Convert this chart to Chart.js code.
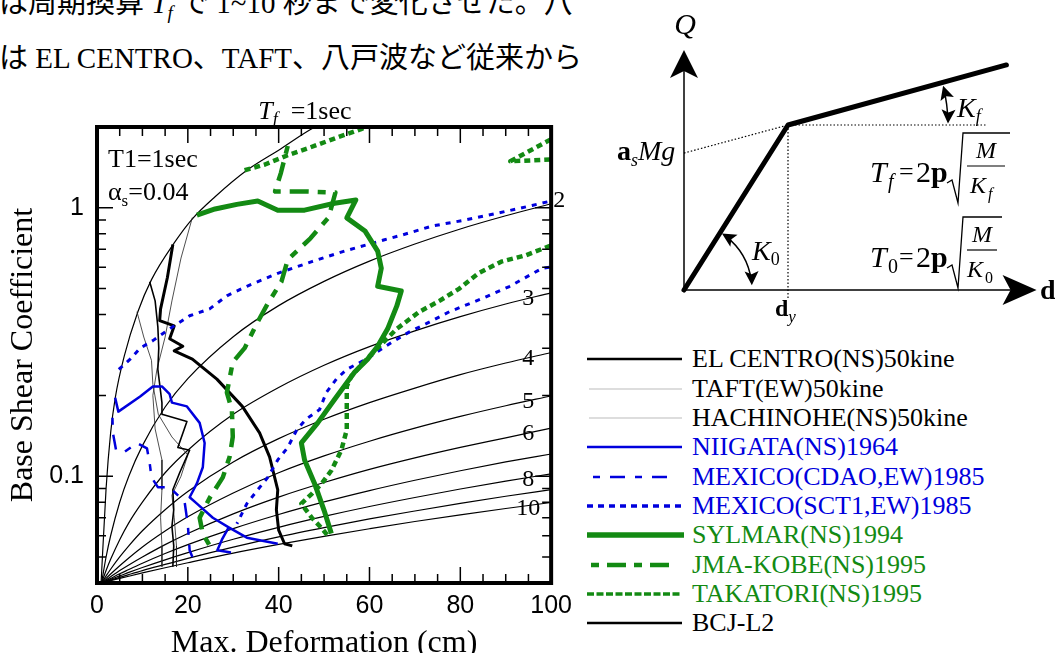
<!DOCTYPE html>
<html>
<head>
<meta charset="utf-8">
<script src="https://cdn.jsdelivr.net/npm/chart.js@4.4.1/dist/chart.umd.min.js"></script>
<style>
  html, body { margin: 0; padding: 0; width: 1055px; height: 653px; overflow: hidden; background: #fff; }
  #page { position: relative; width: 1055px; height: 653px; overflow: hidden; }
  .jp { position: absolute; left: -1px; font-family: "Liberation Serif", "Noto Sans CJK JP", serif; font-size: 29px; line-height: 29px; white-space: nowrap; color: #000; }
  .jp .sub { font-size: 19px; position: relative; top: 6px; font-style: italic; }
  #line1 { top: -11px; }
  #line2 { top: 44px; }
  #main { position: absolute; left: 0; top: 90px; }
  #skel { position: absolute; left: 600px; top: 0; }
  #legend { position: absolute; left: 587px; top: 0; }
  .lg-row { position: absolute; left: 0; height: 30px; width: 460px; }
  .lg-row svg { position: absolute; left: 0; top: 0; }
  .lg-row span { position: absolute; left: 105px; top: 0; line-height: 30px; font-family: "Liberation Serif", serif; font-size: 26px; white-space: nowrap; }
</style>
</head>
<body>
<div id="page">
  <div class="jp" id="line1">は周期換算 <i>T</i><span class="sub">f</span> で 1~10 秒まで変化させた。八</div>
  <div class="jp" id="line2">は EL CENTRO、TAFT、八戸波など従来から</div>
  <canvas id="main" width="580" height="575" style="width:580px;height:575px"></canvas>
  <canvas id="skel" width="455" height="330" style="width:455px;height:330px"></canvas>
  <div id="legend"></div>
</div>
<script>
// ---------- data ----------
// constant equivalent-period (Tf) curves, d in cm, C = base shear coefficient
const tfGridD = [1, 2, 3, 5, 7, 10, 15, 20, 30, 40, 50, 60, 70, 80, 90, 100];
const tf2C  = [0.040, 0.050, 0.060, 0.080, 0.100, 0.130, 0.181, 0.231, 0.331, 0.432, 0.532, 0.633, 0.733, 0.834, 0.934, 1.035];
const tf3C  = [0.040, 0.0445, 0.049, 0.058, 0.067, 0.080, 0.103, 0.125, 0.170, 0.214, 0.259, 0.304, 0.348, 0.393, 0.438, 0.482];
const tf4C  = [0.040, 0.0425, 0.045, 0.050, 0.055, 0.0626, 0.075, 0.0877, 0.113, 0.138, 0.163, 0.188, 0.213, 0.239, 0.264, 0.289];
const tf5C  = [0.040, 0.0416, 0.0432, 0.0464, 0.0496, 0.0545, 0.0625, 0.0706, 0.0866, 0.103, 0.119, 0.135, 0.151, 0.167, 0.183, 0.199];
const tf6C  = [0.040, 0.0411, 0.0422, 0.0445, 0.0467, 0.050, 0.0556, 0.0612, 0.0724, 0.0836, 0.0947, 0.106, 0.117, 0.128, 0.139, 0.151];
const tf7C  = [0.040, 0.0408, 0.0416, 0.0433, 0.0449, 0.0474, 0.0515, 0.0556, 0.0638, 0.072, 0.0802, 0.0884, 0.0966, 0.1048, 0.113, 0.121];
const tf8C  = [0.040, 0.0406, 0.0413, 0.0425, 0.0438, 0.0457, 0.0488, 0.0519, 0.0582, 0.0645, 0.0708, 0.0771, 0.0833, 0.0896, 0.0959, 0.102];
const tf9C  = [0.040, 0.0405, 0.041, 0.042, 0.043, 0.0445, 0.0469, 0.0494, 0.0544, 0.0594, 0.0643, 0.0693, 0.0742, 0.0792, 0.0842, 0.0891];
const tf10C = [0.040, 0.0404, 0.0408, 0.0416, 0.0424, 0.0436, 0.0456, 0.0476, 0.0517, 0.0557, 0.0597, 0.0637, 0.0678, 0.0718, 0.0758, 0.0798];
const tf1D = [0.9, 2, 3, 4, 6, 9, 12, 17, 21, 26, 33, 40, 48, 51];
const tf1C = [0.04, 0.09, 0.145, 0.195, 0.28, 0.41, 0.54, 0.74, 0.91, 1.1, 1.38, 1.64, 2.0, 2.1];
const tfCurveLabels = ['2', '3', '4', '5', '6', '8', '10'];

// response traces (Tf = 1 ... 10), null = trace leaves the plot
const elcD = [11.6, 12.8, 13.4, 13.6, 13.4, 14.3, 14.3, 19.8, 17.8, 20.4, 18.2, 16.7, 16.9, 16.5, 16.9, 16.7];
const elcC = [0.53, 0.45, 0.36, 0.30, 0.25, 0.188, 0.17, 0.16, 0.128, 0.125, 0.103, 0.089, 0.075, 0.065, 0.055, 0.046];
const taftD = [21, 18.5, 16.5, 15, 13.2, 12.3, 12.8, 14.3, 14.3, 14, 14.3, 14.3];
const taftC = [0.92, 0.65, 0.45, 0.33, 0.25, 0.2, 0.15, 0.115, 0.089, 0.07, 0.055, 0.046];
const hachD = [8.8, 10.3, 12, 12.3, 13.5, 16.5, 20, 18.5, 16.5, 17, 17.5, 17.5];
const hachC = [0.41, 0.33, 0.27, 0.22, 0.17, 0.14, 0.12, 0.1, 0.085, 0.07, 0.055, 0.046];
const niiD = [4, 4.7, 9.5, 12.3, 14.3, 16, 16.5, 19.8, 22.6, 23.7, 23.3, 22, 20.4, 22, 25.5, 29, 33, 39.8, null, 29, 27.5, 26.5, 29.5];
const niiC = [0.196, 0.174, 0.198, 0.216, 0.216, 0.202, 0.188, 0.182, 0.158, 0.133, 0.108, 0.094, 0.0835, 0.079, 0.07, 0.0645, 0.059, 0.056, null, 0.0645, 0.058, 0.053, 0.052];
const cdaoD = [3.4, 3.5, 4.2, 6, 8.8, 11, 11.6, 12, 13.4, 16, 19.3, 20, 20.4, 21];
const cdaoC = [0.165, 0.145, 0.125, 0.123, 0.133, 0.127, 0.112, 0.099, 0.091, 0.091, 0.08, 0.066, 0.053, 0.05];
const sctD = [4.8, 7.3, 9.5, 12.3, 16, 20.4, 24.8, 28.6, 33, 39.8, 47.3, 54.5, 63.3, 67, 73.8, 81, 88.6, 95.8, 100, 102, null,
              102, 98, 90.8, 84.8, 77.6, 72.5, 68.8, 65, 59.3, 55, 52.7, 50.5, 49, 46, 44, 42, 39.8, 37.6, 35.4, 33, 30.8];
const sctC = [0.25, 0.273, 0.30, 0.32, 0.354, 0.396, 0.42, 0.47, 0.51, 0.57, 0.63, 0.69, 0.76, 0.79, 0.855, 0.90, 0.958, 1.02, 1.06, 1.08, null,
              0.61, 0.595, 0.509, 0.459, 0.41, 0.37, 0.345, 0.316, 0.273, 0.25, 0.23, 0.205, 0.177, 0.163, 0.149, 0.128, 0.115, 0.099, 0.089, 0.079, 0.0665];
const sylD = [22, 26, 30.8, 35.4, 39.8, 45.7, 52.3, 57, 55, 59, 61.8, 62.6, 61.8, 67, 66, 64, 61.8, 59.6, 56.7, 52.3, 48.6, 45, 45.7, 47.9, 50, 51.6];
const sylC = [0.94, 0.99, 1.03, 1.06, 0.98, 0.98, 1.04, 1.07, 0.917, 0.82, 0.69, 0.595, 0.51, 0.49, 0.43, 0.354, 0.305, 0.273, 0.244, 0.193, 0.158, 0.133, 0.115, 0.094, 0.0746, 0.0612];
const kobeD = [42, 40.5, 39.2, 46, 52.5, 51, 47, 42, 40.6, 37.6, 35.4, 32.5, 29.9, 28.6, 29.7, 29.9, 29.2, 27.7, 24.8, 22.6, 23.3, 25.5];
const kobeC = [1.7, 1.35, 1.15, 1.15, 1.14, 0.92, 0.77, 0.64, 0.53, 0.44, 0.376, 0.30, 0.266, 0.205, 0.177, 0.14, 0.118, 0.099, 0.083, 0.07, 0.061, 0.0527];
const takD = [32.5, 37, 42, 47, 53, 58, 62, null, 102, 91, 100, 102, null,
              102, 99.6, 94.5, 89, 84, 79.8, 75.4, 71, 66, 60, 56, 55, 55, 55, 53.8, 51.6, 49.5, 47.3, 45, 47.3, 49.5, 50.8];
const takC = [1.38, 1.45, 1.57, 1.68, 1.83, 1.96, 2.1, null, 1.52, 1.49, 1.8, 1.86, null,
              0.74, 0.72, 0.666, 0.63, 0.57, 0.50, 0.45, 0.41, 0.354, 0.28, 0.236, 0.216, 0.177, 0.149, 0.125, 0.105, 0.094, 0.086, 0.079, 0.07, 0.064, 0.060];
const bcjD = [16.7, 15.5, 14, 13.8, 17, 16, 18.9, 17, 21, 26.4, 32, 35.8, 38, 39.8, 39.5, 40, 41.3, 43];
const bcjC = [0.73, 0.55, 0.42, 0.38, 0.363, 0.325, 0.305, 0.293, 0.273, 0.23, 0.182, 0.145, 0.118, 0.089, 0.075, 0.063, 0.056, 0.055];

const seriesNames = ['EL CENTRO(NS)50kine', 'TAFT(EW)50kine', 'HACHINOHE(NS)50kine', 'NIIGATA(NS)1964',
  'MEXICO(CDAO,EW)1985', 'MEXICO(SCT1,EW)1985', 'SYLMAR(NS)1994', 'JMA-KOBE(NS)1995', 'TAKATORI(NS)1995', 'BCJ-L2'];

// axis ticks
const yTickValues = [0.04, 0.05, 0.06, 0.07, 0.08, 0.09, 0.1, 0.2, 0.3, 0.4, 0.5, 0.6, 0.7, 0.8, 0.9, 1, 2];
const yLabelValues = [0.1, 1];
const xMinorTicks = [0, 5, 10, 15, 20, 25, 30, 35, 40, 45, 50, 55, 60, 65, 70, 75, 80, 85, 90, 95, 100];
const xMajorTicks = [0, 20, 40, 60, 80, 100];

// bilinear skeleton of the schematic (d / dy, Q / Qy)
const skelD = [0, 1, 3.1];
const skelQ = [0, 1, 1.364];
const alphaQ = 0.83;
const qAxisTop = 1.455;
const dAxisEnd = 3.39;
const dottedEndD = 2.9;

// ---------- styles ----------
const BLUE = '#0000dd';
const GREEN = '#138a13';
const pts = (d, c) => d.map((v, i) => ({ x: c[i] === null ? null : v, y: c[i] }));

const series = [
  { d: elcD,  c: elcC,  color: '#000', width: 1.6, dash: [], lg: { color: '#000', width: 2.7, dash: [], x1: 0, x2: 95 }, text: '#000', z: 7 },
  { d: taftD, c: taftC, color: '#222', width: 0.8, dash: [], lg: { color: '#bbb', width: 1, dash: [], x1: 2, x2: 95 }, text: '#000', z: 8 },
  { d: hachD, c: hachC, color: '#222', width: 0.8, dash: [], lg: { color: '#bbb', width: 1, dash: [], x1: 2, x2: 95 }, text: '#000', z: 9 },
  { d: niiD,  c: niiC,  color: BLUE, width: 2.5, dash: [], lg: { color: BLUE, width: 2.7, dash: [], x1: 0, x2: 95 }, text: BLUE, z: 3 },
  { d: cdaoD, c: cdaoC, color: BLUE, width: 2.5, dash: [7, 10, 15, 10], lg: { color: BLUE, width: 2.7, dash: [7, 10, 15, 10], x1: 6, x2: 82 }, text: BLUE, z: 4 },
  { d: sctD,  c: sctC,  color: BLUE, width: 3, dash: [5, 6], lg: { color: BLUE, width: 3.3, dash: [6, 5], x1: 0, x2: 94 }, text: BLUE, z: 5 },
  { d: sylD,  c: sylC,  color: GREEN, width: 5, dash: [], lg: { color: GREEN, width: 5.3, dash: [], x1: 0, x2: 97 }, text: GREEN, z: 0 },
  { d: kobeD, c: kobeC, color: GREEN, width: 4.5, dash: [8, 9, 19, 9], lg: { color: GREEN, width: 4.5, dash: [8, 8, 19, 8], x1: 4, x2: 84 }, text: GREEN, z: 1 },
  { d: takD,  c: takC,  color: GREEN, width: 4.5, dash: [6, 4], lg: { color: GREEN, width: 3.7, dash: [7, 2.5], x1: 0, x2: 94 }, text: GREEN, z: 2 },
  { d: bcjD,  c: bcjC,  color: '#000', width: 3, dash: [], lg: { color: '#000', width: 2.7, dash: [], x1: 0, x2: 95 }, text: '#000', z: 6 }
];

Chart.defaults.font.family = '"Liberation Serif", "Times New Roman", serif';
Chart.defaults.color = '#000';

const datasets = [];
series.forEach((s, i) => {
  datasets.push({
    label: seriesNames[i], data: pts(s.d, s.c), order: s.z,
    borderColor: s.color, borderWidth: s.width, borderDash: s.dash,
    showLine: true, pointRadius: 0, tension: 0, spanGaps: false, borderJoinStyle: 'round'
  });
});
const tfCurves = [[tf1D, tf1C], [tfGridD, tf2C], [tfGridD, tf3C], [tfGridD, tf4C], [tfGridD, tf5C],
                  [tfGridD, tf6C], [tfGridD, tf7C], [tfGridD, tf8C], [tfGridD, tf9C], [tfGridD, tf10C]];
tfCurves.forEach(([d, c], i) => {
  datasets.push({
    label: 'Tf=' + (i + 1), data: pts(d, c), order: 20 + i,
    borderColor: '#000', borderWidth: 1.2, showLine: true, pointRadius: 0,
    cubicInterpolationMode: 'monotone'
  });
});

// labels drawn on the ends of the Tf curves
const tfLabelCurves = { '2': tf2C, '3': tf3C, '4': tf4C, '5': tf5C, '6': tf6C, '8': tf8C, '10': tf10C };

function subText(ctx, parts, x, y) {
  // parts: [text, font, dy]
  parts.forEach(([t, f, dy]) => {
    ctx.font = f;
    ctx.fillText(t, x, y + (dy || 0));
    x += ctx.measureText(t).width;
  });
}

const framePlugin = {
  id: 'frame',
  afterDatasetsDraw(chart) {
    const { ctx, chartArea: a, scales: { x, y } } = chart;
    ctx.save();
    ctx.strokeStyle = '#000';
    ctx.fillStyle = '#000';
    ctx.lineWidth = 1.5;
    ctx.beginPath();
    xMinorTicks.forEach(v => {
      const px = x.getPixelForValue(v);
      const len = xMajorTicks.includes(v) ? 16 : 9;
      ctx.moveTo(px, a.bottom); ctx.lineTo(px, a.bottom - len);
      ctx.moveTo(px, a.top); ctx.lineTo(px, a.top + len);
    });
    yTickValues.forEach(v => {
      const py = y.getPixelForValue(v);
      const len = yLabelValues.includes(v) ? 16 : 9;
      ctx.moveTo(a.left, py); ctx.lineTo(a.left + len, py);
      ctx.moveTo(a.right, py); ctx.lineTo(a.right - len, py);
    });
    ctx.stroke();
    ctx.lineWidth = 4;
    ctx.strokeRect(a.left, a.top, a.right - a.left, a.bottom - a.top);

    // texts
    ctx.textBaseline = 'alphabetic';
    ctx.textAlign = 'left';
    const serif = '"Liberation Serif", serif';
    subText(ctx, [['T', 'italic 26px ' + serif], ['f', 'italic 18px ' + serif, 6], ['  =1sec', '26px ' + serif]],
      x.getPixelForValue(35.5), a.top - 8);
    subText(ctx, [['T1=1sec', '26px ' + serif]], a.left + 11, a.top + 40);
    subText(ctx, [['α', '26px ' + serif], ['s', '17px ' + serif, 6], ['=0.04', '26px ' + serif]], a.left + 11, a.top + 73);

    ctx.font = '24px ' + serif;
    ctx.textBaseline = 'middle';
    tfCurveLabels.forEach(t => {
      const c = tfLabelCurves[t];
      const py = y.getPixelForValue(c[c.length - 1]);
      if (t === '2') {
        ctx.textAlign = 'left';
        ctx.fillText(t, a.right + 2, py - 3);
      } else {
        ctx.textAlign = 'center';
        ctx.fillText(t, a.right - 23, py + 6);
      }
    });
    ctx.restore();
  }
};

new Chart(document.getElementById('main'), {
  type: 'scatter',
  data: { datasets },
  options: {
    responsive: false,
    animation: false,
    events: [],
    layout: { padding: { left: 0, right: 28, top: 37, bottom: 0 } },
    plugins: { legend: { display: false }, tooltip: { enabled: false } },
    scales: {
      x: {
        type: 'linear', min: 0, max: 100,
        afterFit: s => { s.height = 82; },
        grid: { display: false, drawTicks: false },
        border: { display: false },
        ticks: { stepSize: 20, padding: 8, font: { family: '"Liberation Sans", Arial, sans-serif', size: 25 }, color: '#000', maxRotation: 0 },
        title: { display: true, text: 'Max. Deformation (cm)', font: { size: 32 }, color: '#000', padding: { top: 0, bottom: 2 } }
      },
      y: {
        type: 'logarithmic', min: 0.04, max: 2,
        afterFit: s => { s.width = 97; },
        afterBuildTicks: s => { s.ticks = yTickValues.map(v => ({ value: v })); },
        grid: { display: false, drawTicks: false },
        border: { display: false },
        ticks: {
          autoSkip: false, padding: 13, color: '#000',
          font: { family: '"Liberation Sans", Arial, sans-serif', size: 25 },
          callback: v => yLabelValues.includes(v) ? String(v) : ''
        },
        title: { display: true, text: 'Base Shear Coefficient', font: { size: 32 }, color: '#000' }
      }
    }
  },
  plugins: [framePlugin]
});

// ---------- schematic of the bilinear model ----------
function arrowHead(ctx, tx, ty, ang, len, half, notch) {
  const cx = Math.cos(ang), sy = Math.sin(ang);
  const bx = tx - cx * len, by = ty - sy * len;
  const nx = -sy, ny = cx;
  ctx.beginPath();
  ctx.moveTo(tx, ty);
  ctx.lineTo(bx + nx * half, by + ny * half);
  ctx.lineTo(tx - cx * (len - notch), ty - sy * (len - notch));
  ctx.lineTo(bx - nx * half, by - ny * half);
  ctx.closePath();
  ctx.fill();
}

function arcArrow(ctx, cx, cy, r, a1, a2) {
  ctx.beginPath();
  ctx.arc(cx, cy, r, a1 + 0.06, a2 - 0.06);
  ctx.stroke();
  arrowHead(ctx, cx + r * Math.cos(a1), cy + r * Math.sin(a1), a1 - Math.PI / 2 - 0.05, 14, 7, 3);
  arrowHead(ctx, cx + r * Math.cos(a2), cy + r * Math.sin(a2), a2 + Math.PI / 2 + 0.05, 14, 7, 3);
}

const skelPlugin = {
  id: 'skel',
  afterDatasetsDraw(chart) {
    const { ctx, scales: { x, y } } = chart;
    const o = { x: x.getPixelForValue(0), y: y.getPixelForValue(0) };
    const yp = { x: x.getPixelForValue(skelD[1]), y: y.getPixelForValue(skelQ[1]) };
    const ep = { x: x.getPixelForValue(skelD[2]), y: y.getPixelForValue(skelQ[2]) };
    ctx.save();
    ctx.fillStyle = '#000';
    ctx.strokeStyle = '#000';
    ctx.lineWidth = 1.5;
    arrowHead(ctx, o.x, y.getPixelForValue(qAxisTop), -Math.PI / 2, 28, 14, 7);
    arrowHead(ctx, x.getPixelForValue(dAxisEnd), o.y, 0, 34, 15, 8);

    const a0 = Math.atan2(yp.y - o.y, yp.x - o.x);
    arcArrow(ctx, o.x, o.y, 68, a0 + 0.03, -0.07);
    const af = Math.atan2(ep.y - yp.y, ep.x - yp.x);
    arcArrow(ctx, yp.x, yp.y, 160, af + 0.02, -0.01);

    const serif = '"Liberation Serif", serif';
    ctx.textBaseline = 'alphabetic';
    ctx.textAlign = 'center';
    ctx.font = 'italic 30px ' + serif;
    ctx.fillText('Q', o.x + 1, 34);
    ctx.textAlign = 'left';
    subText(ctx, [['d', 'bold 28px ' + serif]], 440, o.y + 9);
    subText(ctx, [['d', 'bold 24px ' + serif], ['y', 'italic 17px ' + serif, 6]], yp.x - 13, o.y + 26);
    subText(ctx, [['a', 'bold 28px ' + serif], ['s', 'italic 18px ' + serif, 6], ['Mg', 'italic 28px ' + serif]], 17, 160);
    subText(ctx, [['K', 'italic 28px ' + serif], ['0', '18px ' + serif, 5]], 152, 260);
    subText(ctx, [['K', 'italic 28px ' + serif], ['f', 'italic 18px ' + serif, 5]], 357, 117);

    // period formulas
    const formula = (base, sub, subFont, fy, fracCx, barW, barY, kx, kSub) => {
      ctx.textAlign = 'left';
      ctx.font = 'italic 30px ' + serif; ctx.fillText('T', 270, fy);
      ctx.font = subFont; ctx.fillText(sub, 288, fy + 6);
      ctx.font = '26px ' + serif; ctx.fillText('=', 299, fy - 2);
      ctx.font = '30px ' + serif; ctx.fillText('2', 316, fy);
      ctx.font = 'bold 30px ' + serif; ctx.fillText('p', 331, fy);
      ctx.lineWidth = 1.3;
      ctx.beginPath();
      ctx.moveTo(347, fy + 1); ctx.lineTo(352, fy - 2); ctx.lineTo(358, fy + 21);
      ctx.lineTo(363, barY - 33); ctx.lineTo(fracCx + barW / 2 + 5, barY - 33);
      ctx.stroke();
      ctx.beginPath();
      ctx.moveTo(fracCx - barW / 2, barY); ctx.lineTo(fracCx + barW / 2, barY);
      ctx.lineWidth = 1.2; ctx.stroke();
      ctx.textAlign = 'center';
      ctx.font = 'italic 24px ' + serif; ctx.fillText('M', fracCx, barY - 8);
      ctx.textAlign = 'left';
      ctx.fillText('K', kx, barY + 27);
      ctx.font = kSub; ctx.fillText(sub, kx + 18, barY + 33);
    };
    formula('T', 'f', 'italic 20px ' + serif, 182, 386, 38, 166, 370, 'italic 16px ' + serif);
    formula('T', '0', '20px ' + serif, 267, 382, 30, 250, 367, '16px ' + serif);
    ctx.restore();
  }
};

const lineDs = (d, q, w, dash) => ({
  data: pts(d, q), showLine: true, pointRadius: 0, borderColor: '#000',
  borderWidth: w, borderDash: dash, clip: false, borderCapStyle: 'butt'
});

new Chart(document.getElementById('skel'), {
  type: 'scatter',
  data: {
    datasets: [
      Object.assign(lineDs(skelD, skelQ, 5, []), { borderCapStyle: 'round', borderJoinStyle: 'round' }),
      lineDs([0, 0], [0, qAxisTop - 0.05], 1.5, []),
      lineDs([0, dAxisEnd - 0.1], [0, 0], 1.5, []),
      lineDs([0, skelD[1]], [alphaQ, skelQ[1]], 1.2, [1.5, 2]),
      lineDs([skelD[1], dottedEndD], [skelQ[1], skelQ[1]], 1.2, [1.5, 2]),
      lineDs([skelD[1], skelD[1]], [skelQ[1], -0.05], 1.2, [1.5, 2])
    ]
  },
  options: {
    responsive: false,
    animation: false,
    events: [],
    layout: { padding: { left: 84, right: 7, top: 42.5, bottom: 40 } },
    plugins: { legend: { display: false }, tooltip: { enabled: false } },
    scales: {
      x: { type: 'linear', min: 0, max: 3.5, display: false },
      y: { type: 'linear', min: 0, max: 1.5, display: false }
    }
  },
  plugins: [skelPlugin]
});

// ---------- legend ----------
const legend = document.getElementById('legend');
series.forEach((s, i) => {
  const row = document.createElement('div');
  row.className = 'lg-row';
  row.style.top = (344.3 + i * 29.33) + 'px';
  row.innerHTML = '<svg width="100" height="30"><line x1="' + s.lg.x1 + '" x2="' + s.lg.x2 + '" y1="15" y2="15" stroke="' + s.lg.color +
    '" stroke-width="' + s.lg.width + '" stroke-dasharray="' + (s.lg.dash.length ? s.lg.dash.join(' ') : 'none') + '"/></svg>' +
    '<span style="color:' + s.text + '">' + seriesNames[i] + '</span>';
  legend.appendChild(row);
});
</script>
</body>
</html>
